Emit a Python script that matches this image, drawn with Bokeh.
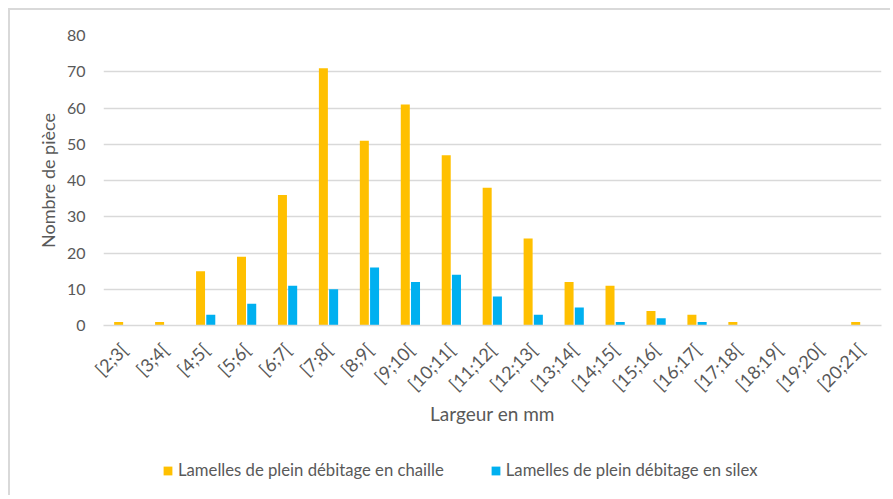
from bokeh.plotting import figure
from bokeh.models import FactorRange, FixedTicker, Legend, LegendItem
from bokeh.layouts import column
from bokeh.transform import dodge
from bokeh.embed import file_html
from bokeh.resources import INLINE
from math import pi

categories = ["[2;3[", "[3;4[", "[4;5[", "[5;6[", "[6;7[", "[7;8[", "[8;9[", "[9;10[",
              "[10;11[", "[11;12[", "[12;13[", "[13;14[", "[14;15[", "[15;16[",
              "[16;17[", "[17;18[", "[18;19[", "[19;20[", "[20;21["]
chaille = [1, 1, 15, 19, 36, 71, 51, 61, 47, 38, 24, 12, 11, 4, 3, 1, 0, 0, 1]
silex = [0, 0, 3, 6, 11, 10, 16, 12, 14, 8, 3, 5, 1, 2, 1, 0, 0, 0, 0]
y_ticks = [0, 10, 20, 30, 40, 50, 60, 70, 80]
series_names = ["Lamelles de plein débitage en chaille", "Lamelles de plein débitage en silex"]
colors = ["#FFC000", "#00B0F0"]

FONT = "Lato"
TXT = "#595959"
GRID = "#D9D9D9"

p = figure(width=880, height=440, x_range=FactorRange(factors=categories, range_padding=0),
           y_range=(0, 80), output_backend="svg", toolbar_location=None,
           min_border_left=93, min_border_right=9, min_border_top=25, min_border_bottom=125)
p.outline_line_color = None

src = dict(cat=categories, chaille=chaille, silex=silex)
p.vbar(x=dodge("cat", -0.13, range=p.x_range), top="chaille", width=0.22,
       source=src, fill_color=colors[0], line_color=None)
p.vbar(x=dodge("cat", 0.12, range=p.x_range), top="silex", width=0.22,
       source=src, fill_color=colors[1], line_color=None)

p.xgrid.grid_line_color = None
p.ygrid.grid_line_color = GRID
p.ygrid.grid_line_width = 1.3
p.yaxis.ticker = FixedTicker(ticks=y_ticks)

p.yaxis.axis_line_color = None
p.yaxis.major_tick_line_color = None
p.yaxis.minor_tick_line_color = None
p.yaxis.major_label_text_font = FONT
p.yaxis.major_label_text_font_size = "16px"
p.yaxis.major_label_text_color = TXT
p.yaxis.major_label_standoff = 12
p.yaxis.axis_label = "Nombre de pièce"
p.yaxis.axis_label_text_font = FONT
p.yaxis.axis_label_text_font_size = "18px"
p.yaxis.axis_label_text_font_style = "normal"
p.yaxis.axis_label_text_color = TXT
p.yaxis.axis_label_standoff = 5

p.xaxis.axis_line_color = GRID
p.xaxis.axis_line_width = 1.3
p.xaxis.major_tick_line_color = None
p.xaxis.minor_tick_line_color = None
p.xaxis.major_label_orientation = pi / 4
p.xaxis.major_label_text_font = FONT
p.xaxis.major_label_text_font_size = "18px"
p.xaxis.major_label_text_color = TXT
p.xaxis.major_label_standoff = 15
p.xaxis.axis_label = "Largeur en mm"
p.xaxis.axis_label_text_font = FONT
p.xaxis.axis_label_text_font_size = "19px"
p.xaxis.axis_label_text_font_style = "normal"
p.xaxis.axis_label_text_color = TXT
p.xaxis.axis_label_standoff = -4

# legend strip below the chart (its frame is aligned with the chart's frame)
q = figure(width=880, height=45, x_range=(0, 1), y_range=(0, 1), output_backend="svg",
           toolbar_location=None, x_axis_location=None, y_axis_location=None,
           min_border_left=0, min_border_right=0, min_border_top=0, min_border_bottom=0)
q.outline_line_color = None
q.grid.visible = False
l1 = q.vbar(x=[0.5], top=[0], width=0.01, fill_color=colors[0], line_color=None)
l2 = q.vbar(x=[0.5], top=[0], width=0.01, fill_color=colors[1], line_color=None)
legend = Legend(items=[LegendItem(label=series_names[0], renderers=[l1]),
                       LegendItem(label=series_names[1], renderers=[l2])],
                orientation="horizontal", location=(59, 15),
                glyph_width=11, glyph_height=11, label_standoff=5, spacing=46,
                padding=0, margin=0, border_line_color=None, background_fill_alpha=0,
                label_text_font=FONT, label_text_font_size="16.7px", label_text_color=TXT)
q.add_layout(legend, "center")

layout = column(p, q, spacing=0,
                styles={"margin-left": "8px", "margin-top": "8px",
                        "border-left": "2px solid #D9D9D9", "border-top": "2px solid #D9D9D9"})

open("out.html", "w").write(file_html(layout, INLINE))
